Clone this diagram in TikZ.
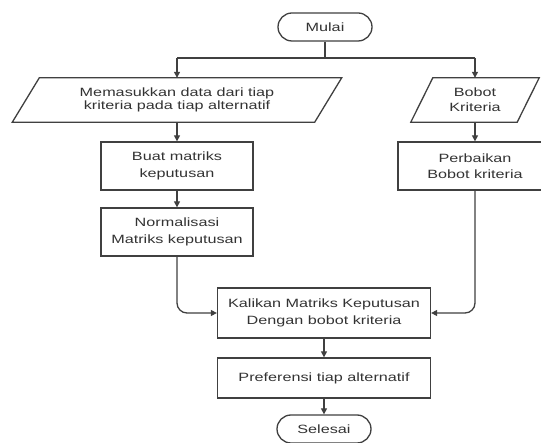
\documentclass[tikz,border=0pt]{standalone}
\usepackage{fontspec}
\setmainfont[FakeStretch=1.35]{Liberation Sans}
\usetikzlibrary{arrows.meta}
\begin{document}
\begin{tikzpicture}[x=1pt,y=-1pt,
  lin/.style={draw=black!75, line width=1.3pt},
  txt/.style={align=center, text=black!80, inner sep=0pt},
  boxnode/.style={lin, txt, rectangle, font=\fontsize{12}{16.5}\selectfont},
  term/.style={lin, txt, rounded corners=14pt, minimum width=94pt, minimum height=28pt, font=\fontsize{12}{14}\selectfont},
  paranode/.style={txt, draw=none, rectangle},
  arr/.style={lin, -{Triangle[length=6pt,width=6pt]}}
]
\useasboundingbox (0,0) rectangle (541,443);
\clip (0,0) rectangle (541,443);
\fill[white] (0,0) rectangle (541,443);

% terminators
\node[term] (mulai) at (325,27) {Mulai};
\node[term] (selesai) at (324,429) {Selesai};

% inputs (parallelograms)
\node[paranode, minimum width=302pt, minimum height=44pt, font=\fontsize{12}{12.5}\selectfont] (inA) at (177,100) {Memasukkan data dari tiap\\kriteria pada tiap alternatif};
\draw[lin] ([xshift=13.5pt]inA.north west) -- ([xshift=13.5pt]inA.north east) -- ([xshift=-13.5pt]inA.south east) -- ([xshift=-13.5pt]inA.south west) -- cycle;

\node[paranode, minimum width=106pt, minimum height=44pt, font=\fontsize{12}{15}\selectfont] (inB) at (475,100) {Bobot\\Kriteria};
\draw[lin] ([xshift=11pt]inB.north west) -- ([xshift=11pt]inB.north east) -- ([xshift=-11pt]inB.south east) -- ([xshift=-11pt]inB.south west) -- cycle;

% process boxes
\node[boxnode, minimum width=152pt, minimum height=48pt] (buat) at (177,166) {Buat matriks\\keputusan};
\node[boxnode, minimum width=152pt, minimum height=48pt] (norm) at (177,232) {Normalisasi\\Matriks keputusan};
\node[boxnode, minimum width=154pt, minimum height=48pt] (perb) at (475,166) {Perbaikan\\Bobot kriteria};
\node[boxnode, minimum width=213pt, minimum height=50pt] (kali) at (324,313) {Kalikan Matriks Keputusan\\Dengan bobot kriteria};
\node[boxnode, minimum width=213pt, minimum height=40pt] (pref) at (324,378) {Preferensi tiap alternatif};

% junction
\coordinate (jL) at (177,58);
\coordinate (jR) at (475,58);
\draw[lin] (mulai.south) -- (mulai.south |- jL);
\draw[lin] (jL) -- (jR);
\draw[arr] (jL) -- (inA.north);
\draw[arr] (jR) -- (inB.north);

\draw[arr] (inA.south) -- (buat.north);
\draw[arr] (buat.south) -- (norm.north);
\draw[arr] (inB.south) -- (perb.north);
\draw[arr, rounded corners=10pt] (norm.south) |- (kali.west);
\draw[arr, rounded corners=10pt] (perb.south) |- (kali.east);
\draw[arr] (kali.south) -- (pref.north);
\draw[arr] (pref.south) -- (selesai.north);
\end{tikzpicture}
\end{document}
